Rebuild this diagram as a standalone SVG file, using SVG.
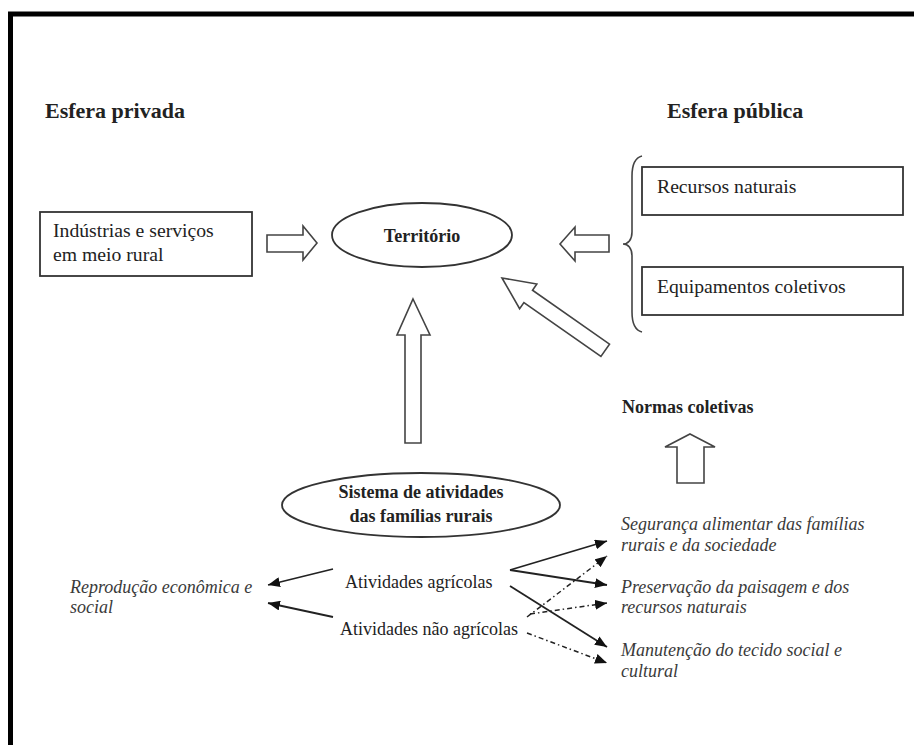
<svg xmlns="http://www.w3.org/2000/svg" width="914" height="745" viewBox="0 0 914 745">
<defs>
<style>
text{font-family:"Liberation Serif","Times New Roman",serif;fill:#222;}
.h{font-size:22px;font-weight:bold;}
.b{font-size:18px;font-weight:bold;}
.r{font-size:18px;}
.rb{font-size:19.7px;}
.i{font-size:18px;font-style:italic;fill:#3a3a3a;}
.box{fill:#fff;stroke:#333;stroke-width:1.8;}
.ell{fill:#fff;stroke:#333;stroke-width:1.8;}
.blk{fill:#fff;stroke:#444;stroke-width:1.6;stroke-linejoin:miter;}
.ln{stroke:#222;stroke-width:1.8;fill:none;marker-end:url(#ah);}
.dd{stroke:#222;stroke-width:1.5;fill:none;stroke-dasharray:5 3 1.5 3;marker-end:url(#ah);}
</style>
<marker id="ah" markerUnits="userSpaceOnUse" markerWidth="12" markerHeight="10" refX="12" refY="5" orient="auto">
<path d="M0,0 L12,5 L0,10 Z" fill="#111"/>
</marker>
</defs>
<rect width="914" height="745" fill="#fff"/>
<path d="M10.5,745 L10.5,14 L914,14" fill="none" stroke="#000" stroke-width="5"/>

<g id="esfera-privada"><text class="h" x="45" y="118">Esfera privada</text></g>
<g id="esfera-publica"><text class="h" x="667" y="118">Esfera pública</text></g>

<g id="industrias">
<rect class="box" x="40" y="212" width="212" height="64"/>
<text class="rb" x="53" y="237">Indústrias e serviços</text>
<text class="rb" x="53" y="261">em meio rural</text>
</g>

<g id="territorio">
<ellipse class="ell" cx="422" cy="235" rx="90" ry="32"/>
<text class="b" x="422" y="242" text-anchor="middle">Território</text>
</g>

<g id="brace">
<path d="M642,156 C634,158 632,166 632,176 L632,232 C632,240 628,244 623,244 C628,244 632,248 632,256 L632,312 C632,322 634,330 642,332" fill="none" stroke="#444" stroke-width="1.6"/>
</g>

<g id="recursos">
<rect class="box" x="642" y="167" width="261" height="48"/>
<text class="rb" x="657" y="193">Recursos naturais</text>
</g>

<g id="equipamentos">
<rect class="box" x="642" y="267" width="261" height="48"/>
<text class="rb" x="657" y="293">Equipamentos coletivos</text>
</g>

<g id="normas"><text class="b" x="622" y="413">Normas coletivas</text></g>

<g id="sistema">
<ellipse class="ell" cx="421" cy="505" rx="139" ry="32"/>
<text class="b" x="421" y="498" text-anchor="middle">Sistema de atividades</text>
<text class="b" x="421" y="522" text-anchor="middle">das famílias rurais</text>
</g>

<g id="ativ-agricolas"><text class="r" x="345" y="588">Atividades agrícolas</text></g>
<g id="ativ-nao-agricolas"><text class="r" x="340" y="635">Atividades não agrícolas</text></g>

<g id="reproducao">
<text class="i" x="70" y="593">Reprodução econômica e</text>
<text class="i" x="70" y="613">social</text>
</g>

<g id="seguranca">
<text class="i" x="621" y="530">Segurança alimentar das famílias</text>
<text class="i" x="621" y="551">rurais e da sociedade</text>
</g>

<g id="preservacao">
<text class="i" x="621" y="593">Preservação da paisagem e dos</text>
<text class="i" x="621" y="613">recursos naturais</text>
</g>

<g id="manutencao">
<text class="i" x="621" y="656">Manutenção do tecido social e</text>
<text class="i" x="621" y="677">cultural</text>
</g>

<g id="connectors">
<polygon class="blk" points="317,243 303,226 303,235 267,235 267,252 303,252 303,260"/>
<polygon class="blk" points="560,244 575,227 575,235 609,235 609,252 575,252 575,261"/>
<polygon class="blk" points="413,299 430,335 421,335 421,443 405,443 405,335 397,335"/>
<polygon class="blk" transform="translate(502,278) rotate(35)" points="0,0 32,-15 32,-7.5 126,-7.5 126,7.5 32,7.5 32,15"/>
<polygon class="blk" points="690,434 715,447 704,447 704,483 677,483 677,447 665,447"/>
<line class="ln" x1="333" y1="569" x2="268" y2="585"/>
<line class="ln" x1="333" y1="617" x2="268" y2="603"/>
<line class="ln" x1="510" y1="570" x2="607" y2="541"/>
<line class="ln" x1="510" y1="570" x2="607" y2="585"/>
<line class="ln" x1="510" y1="586" x2="607" y2="647"/>
<line class="dd" x1="527" y1="617" x2="607" y2="556"/>
<line class="dd" x1="530" y1="614" x2="607" y2="603"/>
<line class="dd" x1="527" y1="633" x2="607" y2="663"/>
</g>
</svg>
